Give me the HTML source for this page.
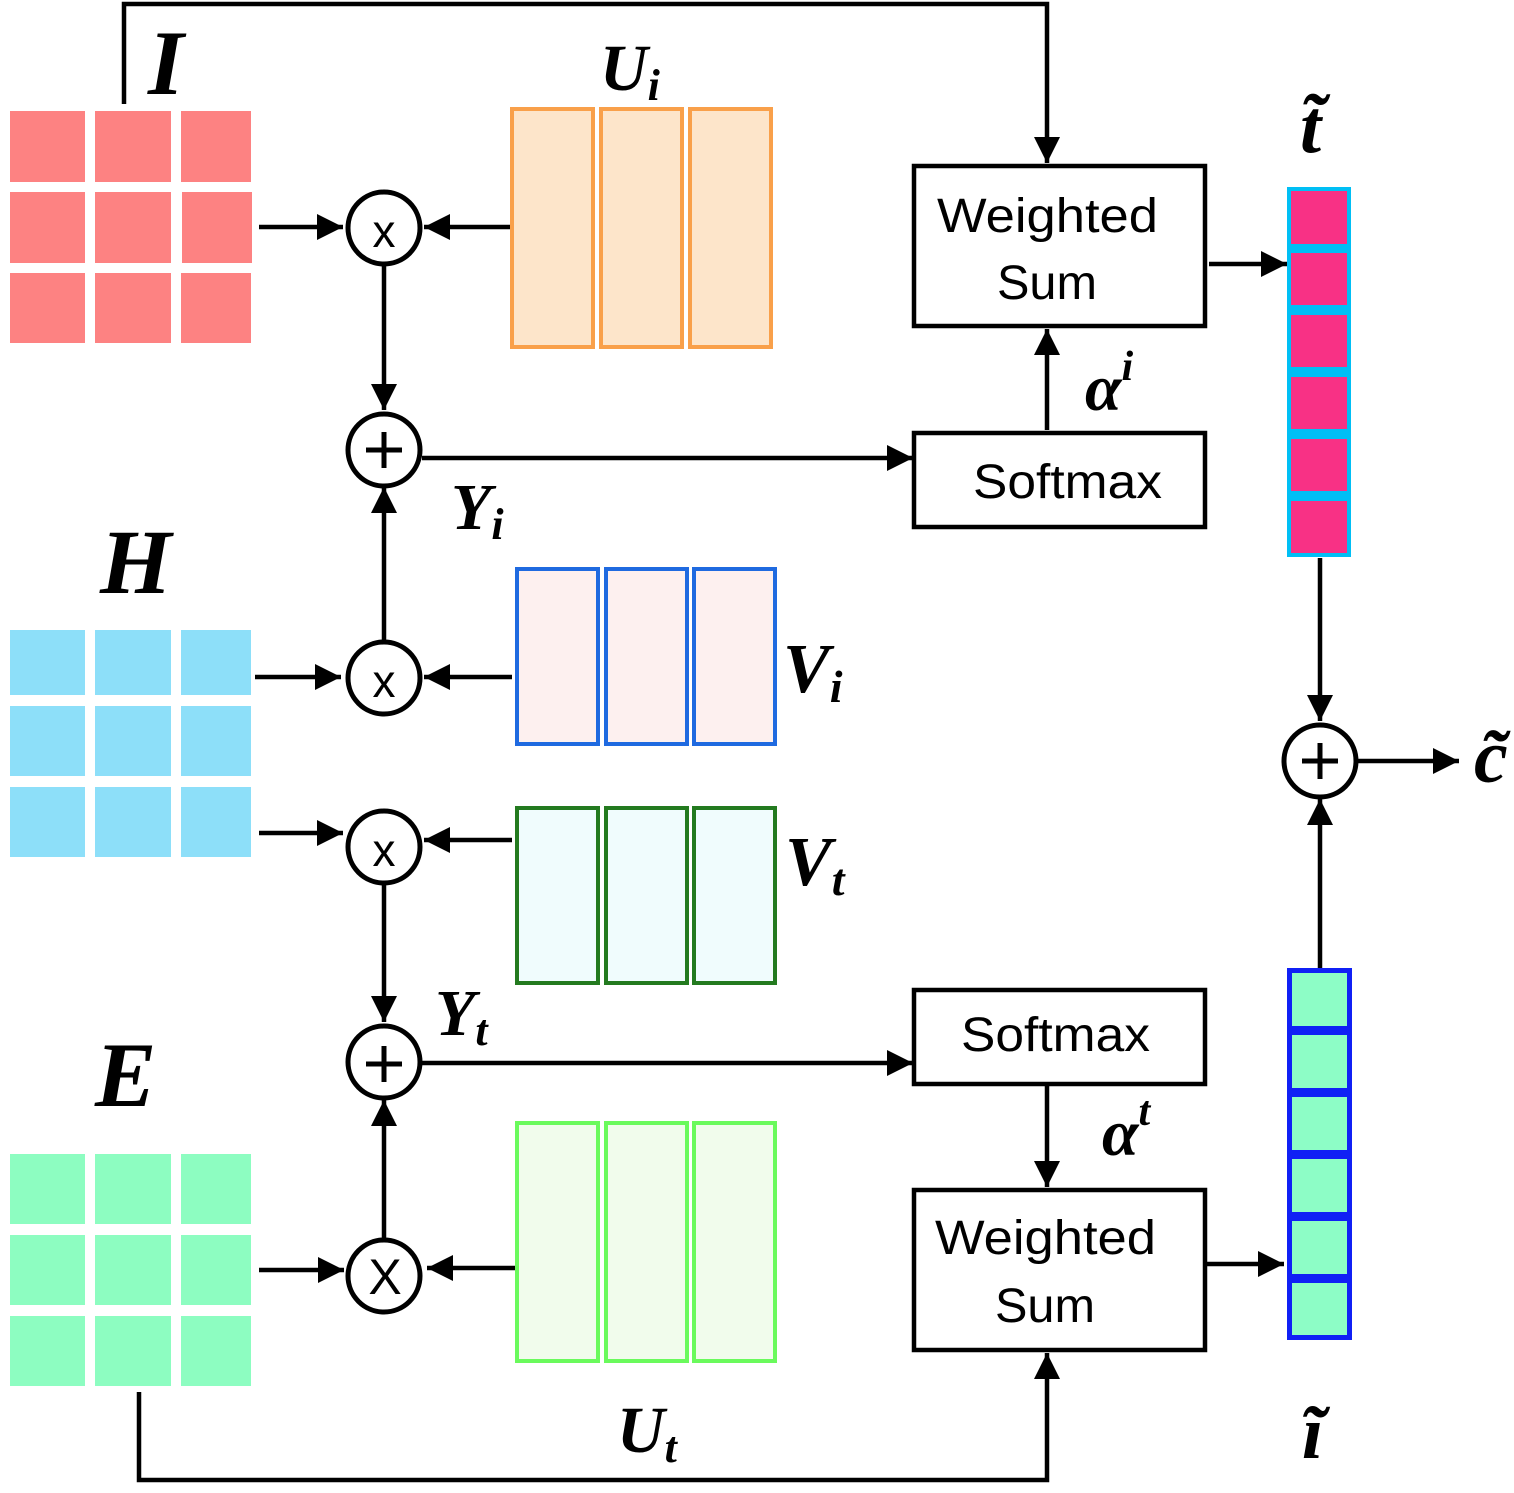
<!DOCTYPE html>
<html><head><meta charset="utf-8"><style>
html,body{margin:0;padding:0;background:#fff;}
svg{display:block;}
.lab{font-family:"Liberation Serif",serif;font-style:italic;font-weight:bold;fill:#000;}
.box{font-family:"Liberation Sans",sans-serif;font-size:48px;fill:#000;}
</style></head><body>
<svg width="1514" height="1493" viewBox="0 0 1514 1493" xmlns="http://www.w3.org/2000/svg">
<defs>
<marker id="a" markerWidth="8" markerHeight="8" refX="7" refY="4" orient="auto" markerUnits="userSpaceOnUse" viewBox="0 0 8 8">
<path d="M0,0 L7,4 L0,8 z" fill="#000"/></marker>
<marker id="b" markerWidth="28" markerHeight="26" refX="26" refY="13" orient="auto" markerUnits="userSpaceOnUse">
<path d="M0,0 L26,13 L0,26 z" fill="#000"/></marker>
</defs>
<g fill="#fd8282">
<rect x="10" y="111" width="75" height="71"/><rect x="95" y="111" width="76" height="71"/><rect x="181" y="111" width="70" height="71"/>
<rect x="10" y="192" width="75" height="71"/><rect x="95" y="192" width="76" height="71"/><rect x="182" y="192" width="70" height="71"/>
<rect x="10" y="273" width="75" height="70"/><rect x="95" y="273" width="76" height="70"/><rect x="181" y="273" width="70" height="70"/>
</g>
<g fill="#8ddff9">
<rect x="10" y="630" width="75" height="65"/><rect x="95" y="630" width="76" height="65"/><rect x="181" y="630" width="70" height="65"/>
<rect x="10" y="706" width="75" height="70"/><rect x="95" y="706" width="76" height="70"/><rect x="181" y="706" width="70" height="70"/>
<rect x="10" y="787" width="75" height="70"/><rect x="95" y="787" width="76" height="70"/><rect x="181" y="787" width="70" height="70"/>
</g>
<g fill="#8dfdc1">
<rect x="10" y="1154" width="75" height="70"/><rect x="95" y="1154" width="76" height="70"/><rect x="181" y="1154" width="70" height="70"/>
<rect x="10" y="1235" width="75" height="70"/><rect x="95" y="1235" width="76" height="70"/><rect x="181" y="1235" width="70" height="70"/>
<rect x="10" y="1316" width="75" height="70"/><rect x="95" y="1316" width="76" height="70"/><rect x="181" y="1316" width="70" height="70"/>
</g>
<g stroke-width="4">
<g fill="#fde5ca" stroke="#f9a04a">
<rect x="512" y="109" width="81" height="238"/><rect x="601" y="109" width="81" height="238"/><rect x="690" y="109" width="81" height="238"/></g>
<g fill="#fdf0ef" stroke="#1f6ae0">
<rect x="517" y="569" width="81" height="175"/><rect x="606" y="569" width="81" height="175"/><rect x="694" y="569" width="81" height="175"/></g>
<g fill="#f0fcfd" stroke="#237a1f">
<rect x="517" y="808" width="81" height="175"/><rect x="606" y="808" width="81" height="175"/><rect x="694" y="808" width="81" height="175"/></g>
<g fill="#f1fcec" stroke="#6afa5c">
<rect x="517" y="1123" width="81" height="238"/><rect x="606" y="1123" width="81" height="238"/><rect x="694" y="1123" width="81" height="238"/></g>
</g>
<rect x="1287" y="187" width="64" height="370" fill="#00bff5"/>
<g fill="#f83185">
<rect x="1291" y="191" width="56" height="53"/><rect x="1291" y="253" width="56" height="52"/><rect x="1291" y="315" width="56" height="52"/>
<rect x="1291" y="377" width="56" height="52"/><rect x="1291" y="439" width="56" height="52"/><rect x="1291" y="501" width="56" height="52"/>
</g>
<rect x="1287" y="968" width="65" height="372" fill="#1020f5"/>
<g fill="#8dfdc6">
<rect x="1292" y="973" width="55" height="53"/><rect x="1292" y="1035" width="55" height="53"/><rect x="1292" y="1097" width="55" height="53"/>
<rect x="1292" y="1159" width="55" height="53"/><rect x="1292" y="1221" width="55" height="53"/><rect x="1292" y="1283" width="55" height="52"/>
</g>
<g fill="none" stroke="#000" stroke-width="4.5">
<rect x="914" y="166" width="291" height="160"/>
<rect x="914" y="433" width="291" height="94"/>
<rect x="914" y="990" width="291" height="94"/>
<rect x="914" y="1190" width="291" height="160"/>
</g>
<g fill="none" stroke="#000" stroke-width="5">
<circle cx="384" cy="228" r="36"/>
<circle cx="384" cy="450" r="36"/>
<circle cx="384" cy="678" r="36"/>
<circle cx="384" cy="847" r="36"/>
<circle cx="384" cy="1062" r="36"/>
<circle cx="384" cy="1276" r="36"/>
<circle cx="1320" cy="761" r="36"/>
</g>
<g stroke="#000" stroke-width="4.5" fill="none">
<line x1="259" y1="227" x2="343" y2="227" marker-end="url(#b)"/>
<line x1="510" y1="227" x2="424" y2="227" marker-end="url(#b)"/>
<line x1="384" y1="265" x2="384" y2="410" marker-end="url(#b)"/>
<line x1="384" y1="641" x2="384" y2="487" marker-end="url(#b)"/>
<line x1="422" y1="458" x2="913" y2="458" marker-end="url(#b)"/>
<line x1="255" y1="677" x2="341" y2="677" marker-end="url(#b)"/>
<line x1="512" y1="677" x2="424" y2="677" marker-end="url(#b)"/>
<line x1="259" y1="833" x2="343" y2="833" marker-end="url(#b)"/>
<line x1="512" y1="840" x2="424" y2="840" marker-end="url(#b)"/>
<line x1="384" y1="884" x2="384" y2="1022" marker-end="url(#b)"/>
<line x1="384" y1="1239" x2="384" y2="1100" marker-end="url(#b)"/>
<line x1="422" y1="1063" x2="913" y2="1063" marker-end="url(#b)"/>
<line x1="259" y1="1270" x2="344" y2="1270" marker-end="url(#b)"/>
<line x1="515" y1="1268" x2="427" y2="1268" marker-end="url(#b)"/>
<polyline points="124,104 124,4 1047,4 1047,163" marker-end="url(#b)"/>
<polyline points="139,1392 139,1480 1047,1480 1047,1353" marker-end="url(#b)"/>
<line x1="1047" y1="430" x2="1047" y2="329" marker-end="url(#b)"/>
<line x1="1047" y1="1086" x2="1047" y2="1187" marker-end="url(#b)"/>
<line x1="1209" y1="264" x2="1287" y2="264" marker-end="url(#b)"/>
<line x1="1207" y1="1264" x2="1284" y2="1264" marker-end="url(#b)"/>
<line x1="1320" y1="558" x2="1320" y2="721" marker-end="url(#b)"/>
<line x1="1320" y1="968" x2="1320" y2="799" marker-end="url(#b)"/>
<line x1="1357" y1="761" x2="1459" y2="761" marker-end="url(#b)"/>
</g>
<g stroke="#000" stroke-width="5">
<line x1="1302" y1="761" x2="1338" y2="761"/><line x1="1320" y1="743" x2="1320" y2="779"/>
<line x1="366" y1="450" x2="402" y2="450"/><line x1="384" y1="432" x2="384" y2="468"/>
<line x1="366" y1="1064" x2="402" y2="1064"/><line x1="384" y1="1046" x2="384" y2="1082"/>
</g>
<g font-family="Liberation Sans,sans-serif" text-anchor="middle" fill="#000">
<text x="384" y="247" font-size="46">x</text>
<text x="384" y="697" font-size="46">x</text>
<text x="384" y="866" font-size="46">x</text>
<text x="385" y="1294" font-size="50">X</text>
</g>
<text class="box" x="937" y="232" textLength="221" lengthAdjust="spacingAndGlyphs">Weighted</text>
<text class="box" x="997" y="299" textLength="100" lengthAdjust="spacingAndGlyphs">Sum</text>
<text class="box" x="973" y="498" textLength="189" lengthAdjust="spacingAndGlyphs">Softmax</text>
<text class="box" x="961" y="1051" textLength="189" lengthAdjust="spacingAndGlyphs">Softmax</text>
<text class="box" x="935" y="1254" textLength="221" lengthAdjust="spacingAndGlyphs">Weighted</text>
<text class="box" x="995" y="1322" textLength="100" lengthAdjust="spacingAndGlyphs">Sum</text>
<text class="lab" x="148" y="94" font-size="92">I</text>
<text class="lab" x="100" y="593" font-size="92">H</text>
<text class="lab" x="95" y="1106" font-size="92">E</text>
<text class="lab" x="600" y="90" font-size="66">U<tspan font-size="44" dy="10">i</tspan></text>
<text class="lab" x="451" y="529" font-size="66">Y<tspan font-size="44" dy="10">i</tspan></text>
<text class="lab" x="783" y="692" font-size="70">V<tspan font-size="46" dy="10">i</tspan></text>
<text class="lab" x="785" y="885" font-size="70">V<tspan font-size="46" dy="10">t</tspan></text>
<text class="lab" x="435" y="1035" font-size="66">Y<tspan font-size="44" dy="10">t</tspan></text>
<text class="lab" x="617" y="1452" font-size="66">U<tspan font-size="44" dy="10">t</tspan></text>
<text class="lab" x="1085" y="410" font-size="66" font-weight="normal">α<tspan font-size="42" dy="-30">i</tspan></text>
<text class="lab" x="1102" y="1155" font-size="66" font-weight="normal">α<tspan font-size="42" dy="-30">t</tspan></text>
<text class="lab" x="1300" y="152" font-size="76">t̃</text>
<text class="lab" x="1474" y="782" font-size="76">c̃</text>
<text class="lab" x="1302" y="1458" font-size="76">ĩ</text>
</svg>
</body></html>
